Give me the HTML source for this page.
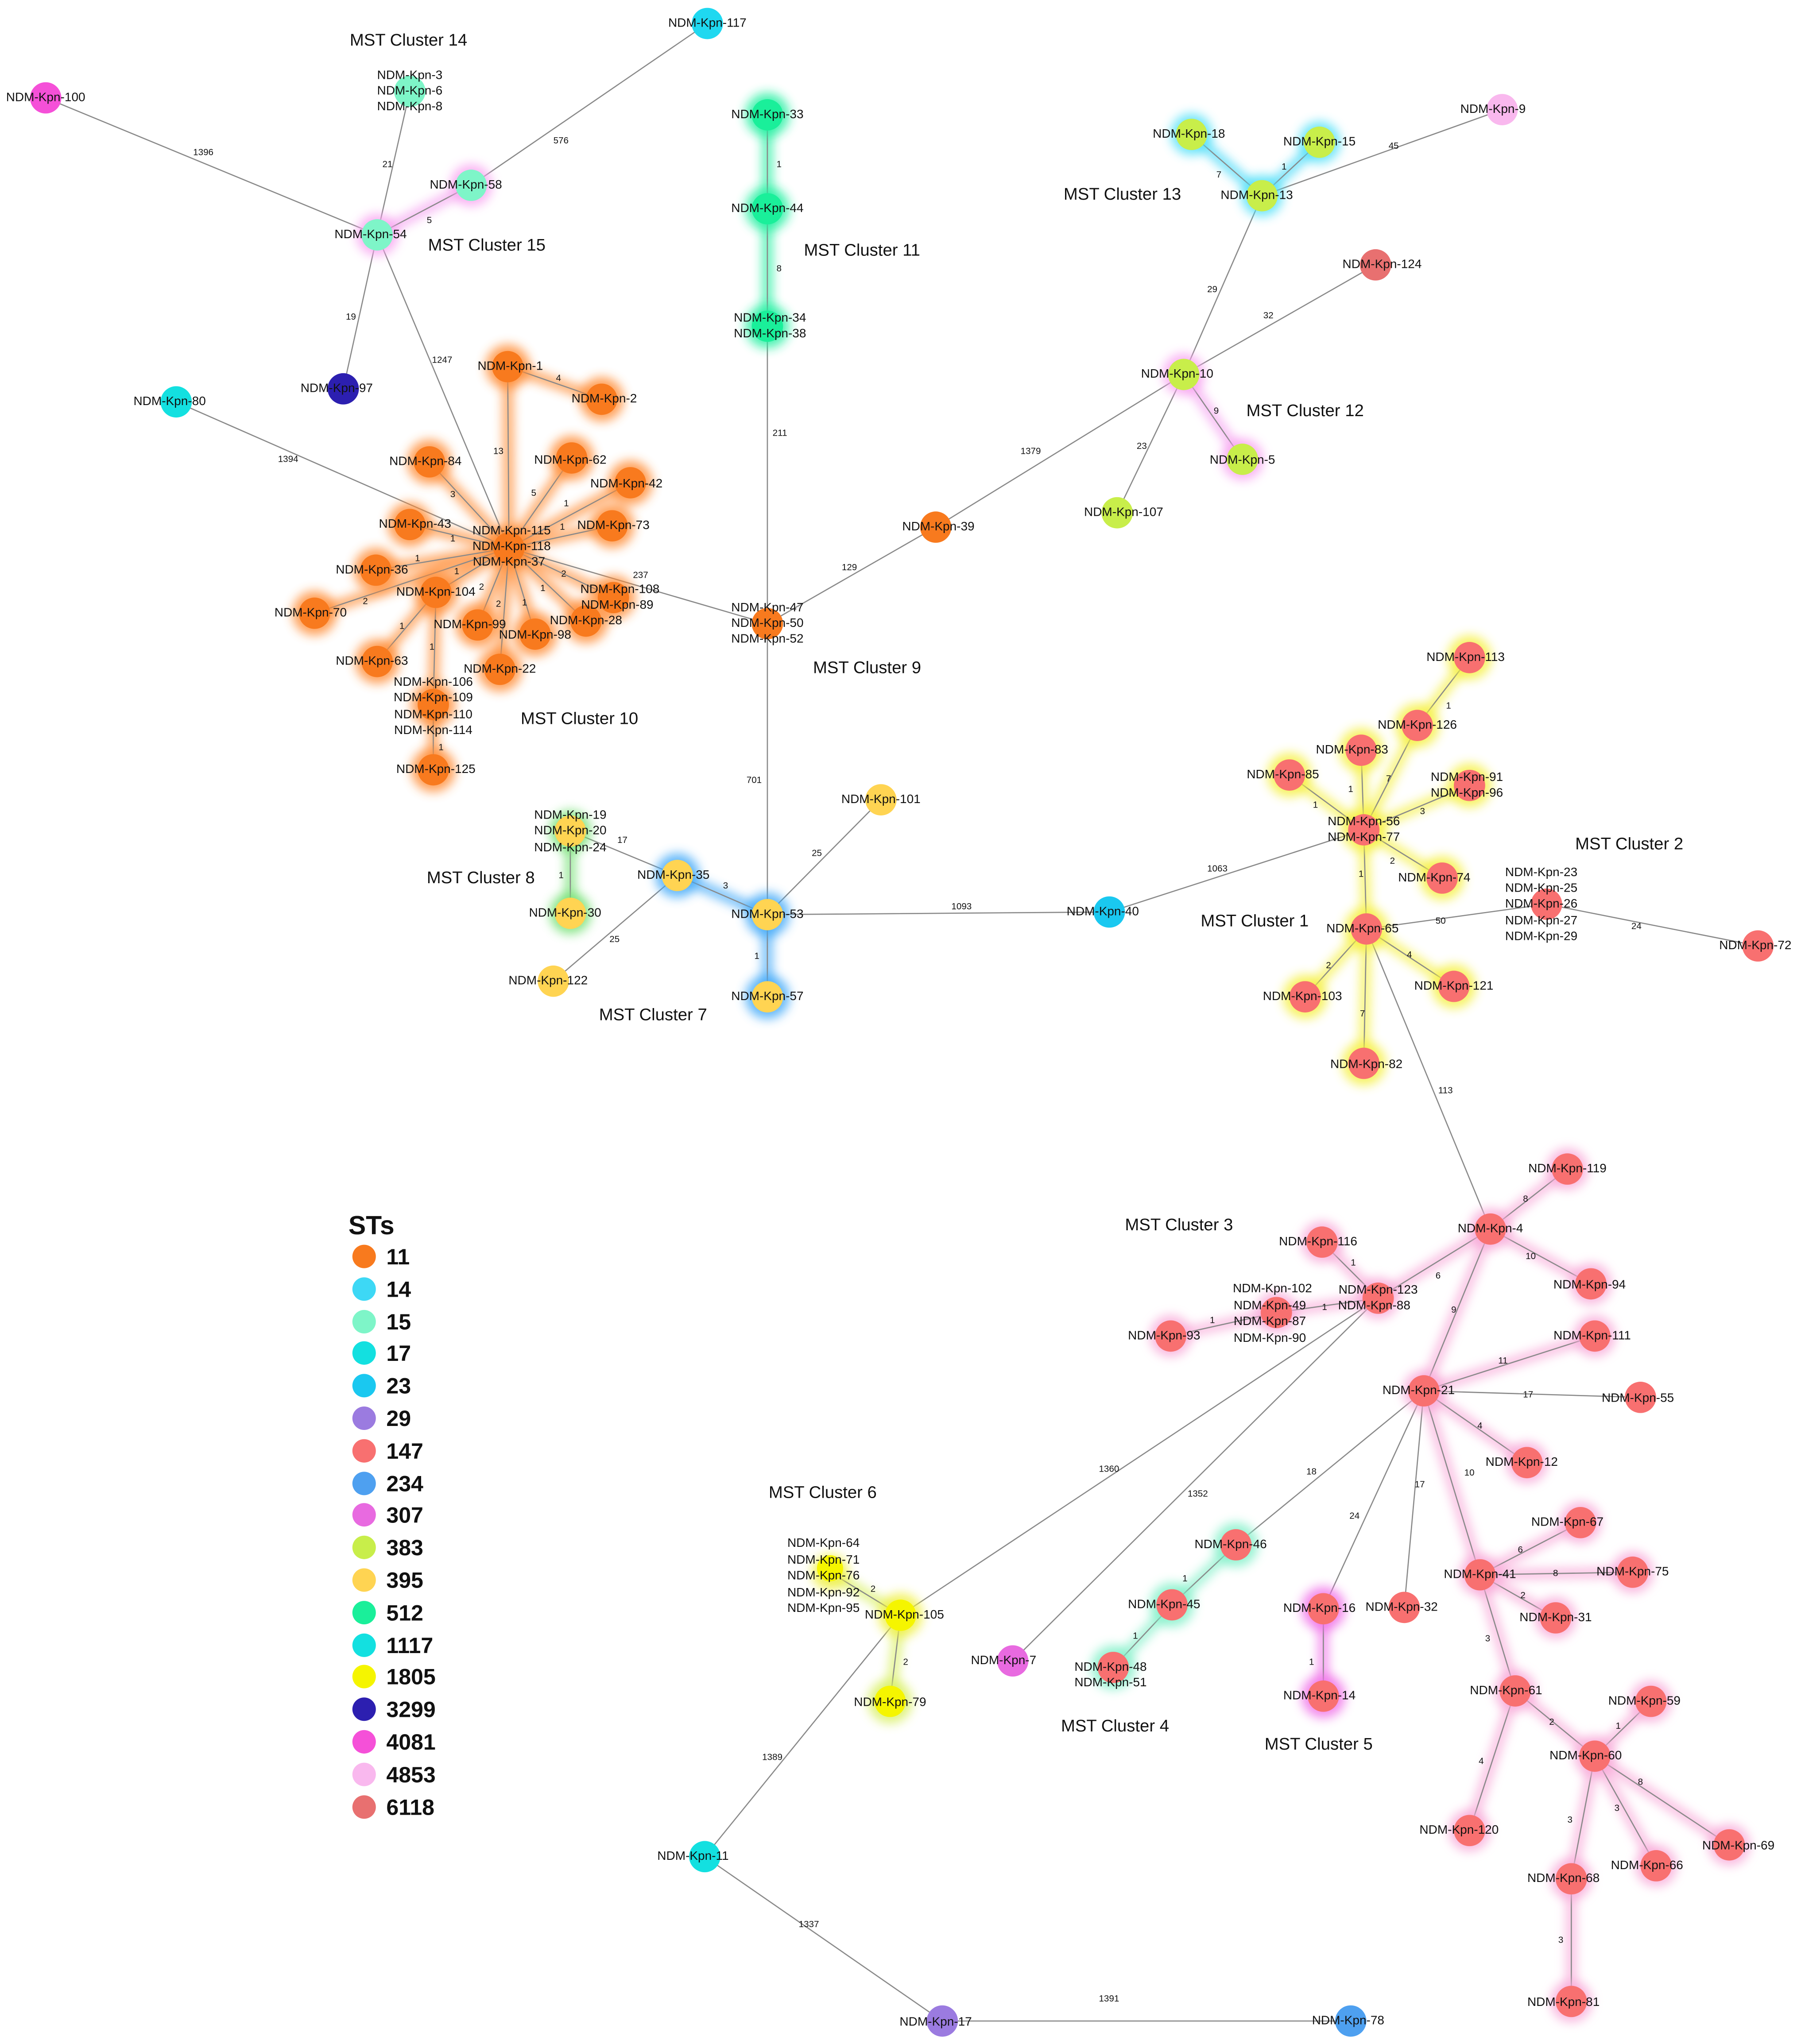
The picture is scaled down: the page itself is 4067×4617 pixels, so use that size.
<!DOCTYPE html>
<html><head><meta charset="utf-8"><style>
html,body{margin:0;padding:0;background:#fff}
svg{display:block}
text{font-family:"Liberation Sans",sans-serif;fill:#111}
.n{font-size:9.5px;text-anchor:middle;dominant-baseline:middle}
.e{font-size:7px;fill:#333}
.c{font-size:13px;fill:#222}
.g{stroke:#8a8a8a;stroke-width:0.9;fill:none}
</style></head><body>
<svg width="4067" height="4617" viewBox="0 0 1380 1566.6" xmlns="http://www.w3.org/2000/svg">
<defs><filter id="b" x="-1" y="-1" width="3" height="3"><feGaussianBlur stdDeviation="4"/></filter></defs>
<!-- glow edges -->
<g filter="url(#b)" stroke-width="8" opacity="0.75" fill="none">
<path stroke="#f5a0f0" d="M361,142L289,180"/>
<path stroke="#20f0a0" d="M588,88L588,160L588,250"/>
<path stroke="#f5a0f0" d="M907,287L952,352"/>
<path stroke="#40d8f8" d="M967,150L913,103M967,150L1011,109"/>
<path stroke="#ff8a30" d="M390,420L389,281L461,306M390,420L329,354M390,420L438,351M390,420L483,370M390,420L469,403M390,420L314,402M390,420L288,437M390,420L241,470M390,420L334,454M390,420L470,458M390,420L449,476M390,420L410,486M390,420L366,479M390,420L383,513M334,454L289,507M334,454L332,540L332,590"/>
<path stroke="#40a8f8" d="M519,671L588,701L588,764"/>
<path stroke="#70e070" d="M437,637L437,700"/>
<path stroke="#f5f040" d="M1045,636L988,594M1045,636L1043,575M1045,636L1086,556L1126,504M1045,636L1126,602M1045,636L1105,673M1045,636L1047,712M1047,712L1000,764M1047,712L1114,756M1047,712L1045,815"/>
<path stroke="#f8a8d8" d="M1142,942L1201,896M1142,942L1219,984M1142,942L1056,995M1142,942L1091,1066M1056,995L1013,952M1056,995L978,1006L897,1024M1091,1066L1222,1024M1091,1066L1170,1121M1091,1066L1134,1207M1134,1207L1211,1167M1134,1207L1251,1205M1134,1207L1192,1240M1134,1207L1161,1296L1222,1346M1161,1296L1126,1403M1222,1346L1265,1304M1222,1346L1325,1414M1222,1346L1269,1430M1222,1346L1204,1440L1204,1534"/>
<path stroke="#f070e8" d="M1014,1233L1014,1300"/>
<path stroke="#80f0c8" d="M947,1184L898,1230L853,1278"/>
<path stroke="#d8f060" d="M690,1238L636,1205M690,1238L682,1304"/>
</g>
<!-- edges -->
<g class="g">
<path d="M35,75L289,180M542,18L361,142M314,70L289,180M361,142L289,180M289,180L263,298M289,180L390,420M135,308L390,420M588,88L588,250M588,250L588,478M390,420L588,478M588,478L717,404L907,287M907,287L1054,203M907,287L967,150M907,287L952,352M907,287L856,393M967,150L913,103M967,150L1011,109M967,150L1151,84"/>
<path d="M390,420L389,281L461,306M390,420L329,354M390,420L438,351M390,420L483,370M390,420L469,403M390,420L314,402M390,420L288,437M390,420L241,470M390,420L334,454M390,420L470,458M390,420L449,476M390,420L410,486M390,420L366,479M390,420L383,513M334,454L289,507M334,454L332,540L332,590"/>
<path d="M588,478L588,701M588,701L519,671M588,701L588,764M588,701L675,613M588,701L850,699L1045,636M519,671L437,637L437,700M519,671L424,752"/>
<path d="M1045,636L988,594M1045,636L1043,575M1045,636L1086,556L1126,504M1045,636L1126,602M1045,636L1105,673M1045,636L1047,712M1047,712L1000,764M1047,712L1114,756M1047,712L1045,815M1047,712L1185,693L1347,725M1047,712L1142,942"/>
<path d="M1142,942L1201,896M1142,942L1219,984M1142,942L1056,995M1142,942L1091,1066M1056,995L1013,952M1056,995L978,1006L897,1024M1056,995L690,1238M1056,995L776,1273M1091,1066L1222,1024M1091,1066L1257,1071M1091,1066L1170,1121M1091,1066L1134,1207M1091,1066L1076,1232M1091,1066L1014,1233M1091,1066L947,1184M1134,1207L1211,1167M1134,1207L1251,1205M1134,1207L1192,1240M1134,1207L1161,1296L1222,1346M1161,1296L1126,1403M1222,1346L1265,1304M1222,1346L1325,1414M1222,1346L1269,1430M1222,1346L1204,1440L1204,1534M1014,1233L1014,1300M947,1184L898,1230L853,1278"/>
<path d="M690,1238L636,1205M690,1238L682,1304M690,1238L540,1423L722,1549L1035,1549"/>
</g>
<!-- node glows -->
<g filter="url(#b)" opacity="0.8">
<circle cx="289" cy="180" r="16" fill="#f8a0f0"/><circle cx="361" cy="142" r="16" fill="#f8a0f0"/>
<circle cx="588" cy="88" r="17" fill="#20f0a0"/><circle cx="588" cy="160" r="17" fill="#20f0a0"/><circle cx="588" cy="250" r="17" fill="#20f0a0"/>
<circle cx="907" cy="287" r="16" fill="#f8a0f0"/><circle cx="952" cy="352" r="16" fill="#f8a0f0"/>
<circle cx="967" cy="150" r="16" fill="#50e0f8"/><circle cx="913" cy="103" r="16" fill="#50e0f8"/><circle cx="1011" cy="109" r="16" fill="#50e0f8"/>
<g fill="#ff8a30"><circle cx="389" cy="281" r="17"/><circle cx="461" cy="306" r="17"/><circle cx="329" cy="354" r="17"/><circle cx="438" cy="351" r="17"/><circle cx="483" cy="370" r="17"/><circle cx="469" cy="403" r="17"/><circle cx="314" cy="402" r="17"/><circle cx="288" cy="437" r="17"/><circle cx="241" cy="470" r="17"/><circle cx="334" cy="454" r="17"/><circle cx="470" cy="458" r="17"/><circle cx="449" cy="476" r="17"/><circle cx="410" cy="486" r="17"/><circle cx="366" cy="479" r="17"/><circle cx="383" cy="513" r="17"/><circle cx="289" cy="507" r="17"/><circle cx="332" cy="540" r="17"/><circle cx="332" cy="590" r="17"/><circle cx="390" cy="420" r="17"/></g>
<circle cx="519" cy="671" r="17" fill="#40a8f8"/><circle cx="588" cy="701" r="17" fill="#40a8f8"/><circle cx="588" cy="764" r="17" fill="#40a8f8"/>
<circle cx="437" cy="637" r="16" fill="#70e070"/><circle cx="437" cy="700" r="16" fill="#70e070"/>
<g fill="#f5f040"><circle cx="1045" cy="636" r="17"/><circle cx="988" cy="594" r="17"/><circle cx="1043" cy="575" r="17"/><circle cx="1086" cy="556" r="17"/><circle cx="1126" cy="504" r="17"/><circle cx="1126" cy="602" r="17"/><circle cx="1105" cy="673" r="17"/><circle cx="1047" cy="712" r="17"/><circle cx="1000" cy="764" r="17"/><circle cx="1114" cy="756" r="17"/><circle cx="1045" cy="815" r="17"/></g>
<g fill="#f8a8d8"><circle cx="1142" cy="942" r="16"/><circle cx="1201" cy="896" r="16"/><circle cx="1219" cy="984" r="16"/><circle cx="1013" cy="952" r="16"/><circle cx="1056" cy="995" r="16"/><circle cx="978" cy="1006" r="16"/><circle cx="897" cy="1024" r="16"/><circle cx="1222" cy="1024" r="16"/><circle cx="1091" cy="1066" r="16"/><circle cx="1170" cy="1121" r="16"/><circle cx="1134" cy="1207" r="16"/><circle cx="1211" cy="1167" r="16"/><circle cx="1251" cy="1205" r="16"/><circle cx="1192" cy="1240" r="16"/><circle cx="1161" cy="1296" r="16"/><circle cx="1265" cy="1304" r="16"/><circle cx="1222" cy="1346" r="16"/><circle cx="1325" cy="1414" r="16"/><circle cx="1269" cy="1430" r="16"/><circle cx="1204" cy="1440" r="16"/><circle cx="1204" cy="1534" r="16"/><circle cx="1126" cy="1403" r="16"/></g>
<circle cx="1014" cy="1233" r="17" fill="#f070e8"/><circle cx="1014" cy="1300" r="17" fill="#f070e8"/>
<circle cx="947" cy="1184" r="17" fill="#80f0c8"/><circle cx="898" cy="1230" r="17" fill="#80f0c8"/><circle cx="853" cy="1278" r="17" fill="#80f0c8"/>
<circle cx="690" cy="1238" r="17" fill="#f0f040"/><circle cx="682" cy="1304" r="17" fill="#d8f060"/><circle cx="636" cy="1205" r="14" fill="#f0f040"/>
</g>
<!-- nodes -->
<g>
<circle cx="35" cy="75" r="12" fill="#f550d8"/>
<circle cx="542" cy="18" r="12" fill="#1fd8f0"/>
<circle cx="314" cy="70" r="12" fill="#7ef5c8"/>
<circle cx="289" cy="180" r="12" fill="#7ef5c8"/>
<circle cx="361" cy="142" r="12" fill="#7ef5c8"/>
<circle cx="263" cy="298" r="12" fill="#2c1fb0"/>
<circle cx="135" cy="308" r="12" fill="#13e0e0"/>
<circle cx="588" cy="88" r="12" fill="#1aef9a"/><circle cx="588" cy="160" r="12" fill="#1aef9a"/><circle cx="588" cy="250" r="12" fill="#1aef9a"/>
<circle cx="588" cy="478" r="12" fill="#f87a1e"/><circle cx="717" cy="404" r="12" fill="#f87a1e"/>
<circle cx="907" cy="287" r="12" fill="#c8ee4a"/><circle cx="952" cy="352" r="12" fill="#c8ee4a"/><circle cx="856" cy="393" r="12" fill="#c8ee4a"/>
<circle cx="1054" cy="203" r="12" fill="#e87070"/>
<circle cx="967" cy="150" r="12" fill="#c8ee4a"/><circle cx="913" cy="103" r="12" fill="#c8ee4a"/><circle cx="1011" cy="109" r="12" fill="#c8ee4a"/>
<circle cx="1151" cy="84" r="12" fill="#f9b8ee"/>
<g fill="#f87a1e"><circle cx="390" cy="420" r="12"/><circle cx="389" cy="281" r="12"/><circle cx="461" cy="306" r="12"/><circle cx="329" cy="354" r="12"/><circle cx="438" cy="351" r="12"/><circle cx="483" cy="370" r="12"/><circle cx="469" cy="403" r="12"/><circle cx="314" cy="402" r="12"/><circle cx="288" cy="437" r="12"/><circle cx="241" cy="470" r="12"/><circle cx="334" cy="454" r="12"/><circle cx="470" cy="458" r="12"/><circle cx="449" cy="476" r="12"/><circle cx="410" cy="486" r="12"/><circle cx="366" cy="479" r="12"/><circle cx="383" cy="513" r="12"/><circle cx="289" cy="507" r="12"/><circle cx="332" cy="540" r="12"/><circle cx="332" cy="590" r="12"/></g>
<g fill="#ffd452"><circle cx="437" cy="637" r="12"/><circle cx="437" cy="700" r="12"/><circle cx="519" cy="671" r="12"/><circle cx="588" cy="701" r="12"/><circle cx="588" cy="764" r="12"/><circle cx="675" cy="613" r="12"/><circle cx="424" cy="752" r="12"/></g>
<circle cx="850" cy="699" r="12" fill="#1ac8f0"/>
<g fill="#f87070"><circle cx="1045" cy="636" r="12"/><circle cx="988" cy="594" r="12"/><circle cx="1043" cy="575" r="12"/><circle cx="1086" cy="556" r="12"/><circle cx="1126" cy="504" r="12"/><circle cx="1126" cy="602" r="12"/><circle cx="1105" cy="673" r="12"/><circle cx="1047" cy="712" r="12"/><circle cx="1000" cy="764" r="12"/><circle cx="1114" cy="756" r="12"/><circle cx="1045" cy="815" r="12"/><circle cx="1185" cy="693" r="12"/><circle cx="1347" cy="725" r="12"/>
<circle cx="1142" cy="942" r="12"/><circle cx="1201" cy="896" r="12"/><circle cx="1219" cy="984" r="12"/><circle cx="1013" cy="952" r="12"/><circle cx="1056" cy="995" r="12"/><circle cx="978" cy="1006" r="12"/><circle cx="897" cy="1024" r="12"/><circle cx="1222" cy="1024" r="12"/><circle cx="1091" cy="1066" r="12"/><circle cx="1257" cy="1071" r="12"/><circle cx="1170" cy="1121" r="12"/><circle cx="1134" cy="1207" r="12"/><circle cx="1211" cy="1167" r="12"/><circle cx="1251" cy="1205" r="12"/><circle cx="1192" cy="1240" r="12"/><circle cx="1161" cy="1296" r="12"/><circle cx="1265" cy="1304" r="12"/><circle cx="1222" cy="1346" r="12"/><circle cx="1325" cy="1414" r="12"/><circle cx="1269" cy="1430" r="12"/><circle cx="1204" cy="1440" r="12"/><circle cx="1204" cy="1534" r="12"/><circle cx="1126" cy="1403" r="12"/><circle cx="1076" cy="1232" r="12"/><circle cx="1014" cy="1233" r="12"/><circle cx="1014" cy="1300" r="12"/><circle cx="947" cy="1184" r="12"/><circle cx="898" cy="1230" r="12"/><circle cx="853" cy="1278" r="12"/></g>
<circle cx="776" cy="1273" r="12" fill="#e86ae0"/>
<circle cx="690" cy="1238" r="12" fill="#f5f500"/><circle cx="682" cy="1304" r="12" fill="#f5f500"/><circle cx="636" cy="1202" r="10" fill="#f5f500"/>
<circle cx="540" cy="1423" r="12" fill="#13e0e0"/>
<circle cx="722" cy="1549" r="12" fill="#9b7be0"/>
<circle cx="1035" cy="1549" r="12" fill="#4ea0f0"/>
</g>
<!-- edge labels -->
<g class="e">
<text x="148" y="119">1396</text><text x="424" y="110">576</text><text x="293" y="128">21</text><text x="327" y="171">5</text><text x="265" y="245">19</text><text x="331" y="278">1247</text><text x="213" y="354">1394</text>
<text x="595" y="128">1</text><text x="595" y="208">8</text><text x="592" y="334">211</text><text x="485" y="443">237</text><text x="645" y="437">129</text><text x="782" y="348">1379</text><text x="968" y="244">32</text><text x="925" y="224">29</text><text x="930" y="317">9</text><text x="871" y="344">23</text><text x="932" y="136">7</text><text x="982" y="130">1</text><text x="1064" y="114">45</text>
<text x="378" y="348">13</text><text x="426" y="292">4</text><text x="345" y="381">3</text><text x="407" y="380">5</text><text x="432" y="388">1</text><text x="429" y="406">1</text><text x="345" y="415">1</text><text x="318" y="430">1</text><text x="278" y="463">2</text><text x="348" y="440">1</text><text x="430" y="442">2</text><text x="414" y="453">1</text><text x="400" y="464">1</text><text x="367" y="452">2</text><text x="380" y="465">2</text><text x="306" y="482">1</text><text x="329" y="498">1</text><text x="336" y="575">1</text>
<text x="572" y="600">701</text><text x="554" y="681">3</text><text x="578" y="735">1</text><text x="622" y="656">25</text><text x="729" y="697">1093</text><text x="473" y="646">17</text><text x="467" y="722">25</text><text x="428" y="673">1</text><text x="925" y="668">1063</text>
<text x="1006" y="619">1</text><text x="1033" y="607">1</text><text x="1062" y="599">7</text><text x="1108" y="543">1</text><text x="1088" y="624">3</text><text x="1065" y="662">2</text><text x="1041" y="672">1</text><text x="1016" y="742">2</text><text x="1078" y="734">4</text><text x="1042" y="779">7</text><text x="1100" y="708">50</text><text x="1250" y="712">24</text><text x="1102" y="838">113</text>
<text x="1167" y="921">8</text><text x="1169" y="965">10</text><text x="1100" y="980">6</text><text x="1112" y="1006">9</text><text x="1035" y="970">1</text><text x="1013" y="1004">1</text><text x="927" y="1014">1</text><text x="842" y="1128">1360</text><text x="910" y="1147">1352</text>
<text x="1148" y="1045">11</text><text x="1167" y="1071">17</text><text x="1132" y="1095">4</text><text x="1122" y="1131">10</text><text x="1084" y="1140">17</text><text x="1034" y="1164">24</text><text x="1001" y="1130">18</text><text x="1163" y="1190">6</text><text x="1190" y="1208">8</text><text x="1165" y="1225">2</text><text x="1138" y="1258">3</text><text x="1187" y="1322">2</text><text x="1133" y="1352">4</text><text x="1238" y="1325">1</text><text x="1255" y="1368">8</text><text x="1237" y="1388">3</text><text x="1201" y="1397">3</text><text x="1194" y="1489">3</text>
<text x="1003" y="1276">1</text><text x="906" y="1212">1</text><text x="868" y="1256">1</text><text x="667" y="1220">2</text><text x="692" y="1276">2</text><text x="584" y="1349">1389</text><text x="612" y="1477">1337</text><text x="842" y="1534">1391</text>
</g>
<!-- node labels -->
<g class="n">
<text x="35" y="75">NDM-Kpn-100</text><text x="542" y="18">NDM-Kpn-117</text>
<text x="314" y="58">NDM-Kpn-3</text><text x="314" y="70">NDM-Kpn-6</text><text x="314" y="82">NDM-Kpn-8</text>
<text x="284" y="180">NDM-Kpn-54</text><text x="357" y="142">NDM-Kpn-58</text><text x="258" y="298">NDM-Kpn-97</text><text x="130" y="308">NDM-Kpn-80</text>
<text x="588" y="88">NDM-Kpn-33</text><text x="588" y="160">NDM-Kpn-44</text><text x="590" y="244">NDM-Kpn-34</text><text x="590" y="256">NDM-Kpn-38</text>
<text x="588" y="466">NDM-Kpn-47</text><text x="588" y="478">NDM-Kpn-50</text><text x="588" y="490">NDM-Kpn-52</text>
<text x="719" y="404">NDM-Kpn-39</text><text x="902" y="287">NDM-Kpn-10</text><text x="952" y="353">NDM-Kpn-5</text><text x="861" y="393">NDM-Kpn-107</text><text x="1059" y="203">NDM-Kpn-124</text>
<text x="963" y="150">NDM-Kpn-13</text><text x="911" y="103">NDM-Kpn-18</text><text x="1011" y="109">NDM-Kpn-15</text><text x="1144" y="84">NDM-Kpn-9</text>
<text x="392" y="407">NDM-Kpn-115</text><text x="392" y="419">NDM-Kpn-118</text><text x="390" y="431">NDM-Kpn-37</text>
<text x="391" y="281">NDM-Kpn-1</text><text x="463" y="306">NDM-Kpn-2</text><text x="326" y="354">NDM-Kpn-84</text><text x="437" y="353">NDM-Kpn-62</text><text x="480" y="371">NDM-Kpn-42</text><text x="470" y="403">NDM-Kpn-73</text><text x="318" y="402">NDM-Kpn-43</text><text x="285" y="437">NDM-Kpn-36</text><text x="238" y="470">NDM-Kpn-70</text><text x="334" y="454">NDM-Kpn-104</text><text x="475" y="452">NDM-Kpn-108</text><text x="473" y="464">NDM-Kpn-89</text><text x="449" y="476">NDM-Kpn-28</text><text x="410" y="487">NDM-Kpn-98</text><text x="360" y="479">NDM-Kpn-99</text><text x="383" y="513">NDM-Kpn-22</text><text x="285" y="507">NDM-Kpn-63</text>
<text x="332" y="523">NDM-Kpn-106</text><text x="332" y="535">NDM-Kpn-109</text><text x="332" y="548">NDM-Kpn-110</text><text x="332" y="560">NDM-Kpn-114</text><text x="334" y="590">NDM-Kpn-125</text>
<text x="437" y="625">NDM-Kpn-19</text><text x="437" y="637">NDM-Kpn-20</text><text x="437" y="650">NDM-Kpn-24</text><text x="433" y="700">NDM-Kpn-30</text>
<text x="516" y="671">NDM-Kpn-35</text><text x="588" y="701">NDM-Kpn-53</text><text x="588" y="764">NDM-Kpn-57</text><text x="675" y="613">NDM-Kpn-101</text><text x="420" y="752">NDM-Kpn-122</text><text x="845" y="699">NDM-Kpn-40</text>
<text x="1045" y="630">NDM-Kpn-56</text><text x="1045" y="642">NDM-Kpn-77</text><text x="983" y="594">NDM-Kpn-85</text><text x="1036" y="575">NDM-Kpn-83</text><text x="1086" y="556">NDM-Kpn-126</text><text x="1123" y="504">NDM-Kpn-113</text><text x="1124" y="596">NDM-Kpn-91</text><text x="1124" y="608">NDM-Kpn-96</text><text x="1099" y="673">NDM-Kpn-74</text><text x="1044" y="712">NDM-Kpn-65</text><text x="998" y="764">NDM-Kpn-103</text><text x="1114" y="756">NDM-Kpn-121</text><text x="1047" y="816">NDM-Kpn-82</text>
<text x="1181" y="669">NDM-Kpn-23</text><text x="1181" y="681">NDM-Kpn-25</text><text x="1181" y="693">NDM-Kpn-26</text><text x="1181" y="706">NDM-Kpn-27</text><text x="1181" y="718">NDM-Kpn-29</text><text x="1345" y="725">NDM-Kpn-72</text>
<text x="1142" y="942">NDM-Kpn-4</text><text x="1201" y="896">NDM-Kpn-119</text><text x="1218" y="985">NDM-Kpn-94</text><text x="1010" y="952">NDM-Kpn-116</text><text x="1056" y="989">NDM-Kpn-123</text><text x="1053" y="1001">NDM-Kpn-88</text>
<text x="975" y="988">NDM-Kpn-102</text><text x="973" y="1001">NDM-Kpn-49</text><text x="973" y="1013">NDM-Kpn-87</text><text x="973" y="1026">NDM-Kpn-90</text><text x="892" y="1024">NDM-Kpn-93</text>
<text x="1220" y="1024">NDM-Kpn-111</text><text x="1087" y="1066">NDM-Kpn-21</text><text x="1255" y="1072">NDM-Kpn-55</text><text x="1166" y="1121">NDM-Kpn-12</text><text x="1134" y="1207">NDM-Kpn-41</text><text x="1201" y="1167">NDM-Kpn-67</text><text x="1251" y="1205">NDM-Kpn-75</text><text x="1192" y="1240">NDM-Kpn-31</text><text x="1154" y="1296">NDM-Kpn-61</text><text x="1260" y="1304">NDM-Kpn-59</text><text x="1215" y="1346">NDM-Kpn-60</text><text x="1332" y="1415">NDM-Kpn-69</text><text x="1262" y="1430">NDM-Kpn-66</text><text x="1198" y="1440">NDM-Kpn-68</text><text x="1198" y="1535">NDM-Kpn-81</text><text x="1118" y="1403">NDM-Kpn-120</text>
<text x="1074" y="1232">NDM-Kpn-32</text><text x="1011" y="1233">NDM-Kpn-16</text><text x="1011" y="1300">NDM-Kpn-14</text><text x="943" y="1184">NDM-Kpn-46</text><text x="892" y="1230">NDM-Kpn-45</text><text x="851" y="1278">NDM-Kpn-48</text><text x="851" y="1290">NDM-Kpn-51</text><text x="769" y="1273">NDM-Kpn-7</text>
<text x="631" y="1183">NDM-Kpn-64</text><text x="631" y="1196">NDM-Kpn-71</text><text x="631" y="1208">NDM-Kpn-76</text><text x="631" y="1221">NDM-Kpn-92</text><text x="631" y="1233">NDM-Kpn-95</text>
<text x="693" y="1238">NDM-Kpn-105</text><text x="682" y="1305">NDM-Kpn-79</text><text x="531" y="1423">NDM-Kpn-11</text><text x="717" y="1550">NDM-Kpn-17</text><text x="1033" y="1549">NDM-Kpn-78</text>
</g>
<!-- cluster labels -->
<g class="c">
<text x="268" y="35">MST Cluster 14</text><text x="328" y="192">MST Cluster 15</text><text x="616" y="196">MST Cluster 11</text><text x="815" y="153">MST Cluster 13</text><text x="955" y="319">MST Cluster 12</text><text x="399" y="555">MST Cluster 10</text><text x="623" y="516">MST Cluster 9</text><text x="327" y="677">MST Cluster 8</text><text x="459" y="782">MST Cluster 7</text><text x="1207" y="651">MST Cluster 2</text><text x="920" y="710">MST Cluster 1</text><text x="862" y="943">MST Cluster 3</text><text x="589" y="1148">MST Cluster 6</text><text x="813" y="1327">MST Cluster 4</text><text x="969" y="1341">MST Cluster 5</text>
</g>
<!-- legend -->
<text x="267" y="946" style="font-size:20px;font-weight:bold">STs</text>
<g style="font-size:17px;font-weight:bold">
<circle cx="279" cy="963" r="9" fill="#f87a1e"/><text x="296" y="969">11</text>
<circle cx="279" cy="988" r="9" fill="#3dd8f5"/><text x="296" y="994">14</text>
<circle cx="279" cy="1013" r="9" fill="#7ef5c8"/><text x="296" y="1019">15</text>
<circle cx="279" cy="1037" r="9" fill="#13e0e0"/><text x="296" y="1043">17</text>
<circle cx="279" cy="1062" r="9" fill="#1ac8f0"/><text x="296" y="1068">23</text>
<circle cx="279" cy="1087" r="9" fill="#9b7be0"/><text x="296" y="1093">29</text>
<circle cx="279" cy="1112" r="9" fill="#f87070"/><text x="296" y="1118">147</text>
<circle cx="279" cy="1137" r="9" fill="#4ea0f0"/><text x="296" y="1143">234</text>
<circle cx="279" cy="1161" r="9" fill="#e86ae0"/><text x="296" y="1167">307</text>
<circle cx="279" cy="1186" r="9" fill="#c8ee4a"/><text x="296" y="1192">383</text>
<circle cx="279" cy="1211" r="9" fill="#ffd452"/><text x="296" y="1217">395</text>
<circle cx="279" cy="1236" r="9" fill="#1aef9a"/><text x="296" y="1242">512</text>
<circle cx="279" cy="1261" r="9" fill="#13e0e0"/><text x="296" y="1267">1117</text>
<circle cx="279" cy="1285" r="9" fill="#f5f500"/><text x="296" y="1291">1805</text>
<circle cx="279" cy="1310" r="9" fill="#2c1fb0"/><text x="296" y="1316">3299</text>
<circle cx="279" cy="1335" r="9" fill="#f550d8"/><text x="296" y="1341">4081</text>
<circle cx="279" cy="1360" r="9" fill="#f9b8ee"/><text x="296" y="1366">4853</text>
<circle cx="279" cy="1385" r="9" fill="#e87070"/><text x="296" y="1391">6118</text>
</g>
</svg>
</body></html>
